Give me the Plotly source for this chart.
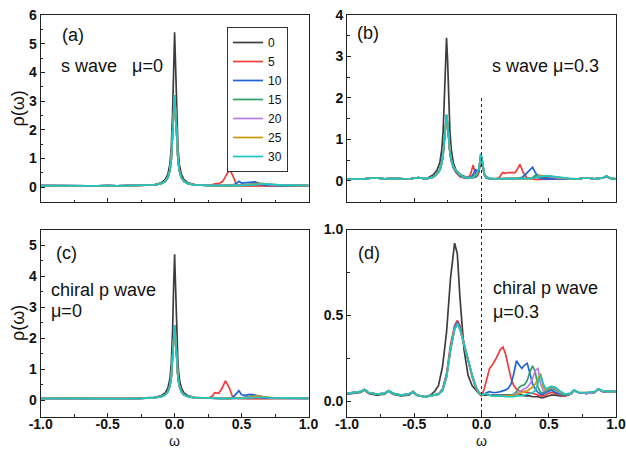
import plotly.graph_objects as go

# ---------------- labels / series ----------------
series_labels = ["0", "5", "10", "15", "20", "25", "30"]
series_colors = ["#3d3d3d", "#f03c3c", "#1f63dc", "#2f9f62", "#b57fe8", "#c8980c", "#1cc6c6"]

# ---------------- panel (a): s wave, mu=0 ----------------
omega_a = [-1.0, -0.93, -0.87, -0.81, -0.75, -0.7, -0.64, -0.57, -0.5, -0.43, -0.35, -0.25, -0.2, -0.15, -0.1,
           -0.07, -0.05, -0.035, -0.025, -0.015, -0.008, 0.0, 0.008, 0.015, 0.025, 0.035, 0.05, 0.07,
           0.1, 0.15, 0.2, 0.25, 0.28, 0.3, 0.33, 0.36, 0.39, 0.41, 0.43, 0.46, 0.48, 0.5, 0.53, 0.56, 0.6,
           0.63, 0.66, 0.7, 0.75, 0.8, 0.87, 0.93, 1.0]
a_left_0 = [0.05, 0.05, 0.07, 0.05, 0.045, 0.06, 0.045, 0.04, 0.055, 0.04, 0.045, 0.06, 0.07, 0.09, 0.15]
a_left = [0.05, 0.05, 0.07, 0.05, 0.045, 0.06, 0.045, 0.04, 0.055, 0.04, 0.045, 0.053, 0.06, 0.076, 0.12]
a_peak_0 = [0.26, 0.45, 0.81, 1.37, 2.6, 4.13, 5.4, 4.13, 2.6, 1.37, 0.81, 0.45, 0.26]
a_peak = [0.2, 0.33, 0.58, 0.96, 1.72, 2.56, 3.2, 2.56, 1.72, 0.96, 0.58, 0.33, 0.2]
a_right_0 = [0.15, 0.09, 0.07, 0.06, 0.05, 0.05, 0.05, 0.045, 0.045, 0.045, 0.05, 0.05, 0.05, 0.05, 0.055,
             0.06, 0.06, 0.06, 0.055, 0.05, 0.05, 0.05, 0.06, 0.05, 0.05]
a_right_5 = [0.12, 0.076, 0.06, 0.055, 0.08, 0.11, 0.12, 0.2, 0.45, 0.6, 0.45, 0.12, 0.06, 0.05, 0.05,
             0.045, 0.04, 0.035, 0.035, 0.04, 0.045, 0.05, 0.06, 0.055, 0.05]
a_right_10 = [0.12, 0.076, 0.06, 0.053, 0.05, 0.05, 0.05, 0.05, 0.05, 0.05, 0.06, 0.12, 0.2, 0.14, 0.15,
              0.16, 0.18, 0.13, 0.08, 0.06, 0.05, 0.05, 0.06, 0.055, 0.05]
a_right_15 = [0.12, 0.076, 0.06, 0.053, 0.05, 0.05, 0.05, 0.05, 0.05, 0.05, 0.05, 0.05, 0.055, 0.07, 0.09,
              0.1, 0.12, 0.13, 0.11, 0.08, 0.065, 0.06, 0.06, 0.055, 0.05]
a_right_20 = [0.12, 0.076, 0.06, 0.053, 0.05, 0.05, 0.05, 0.05, 0.05, 0.05, 0.05, 0.05, 0.05, 0.06, 0.075,
              0.09, 0.1, 0.12, 0.12, 0.09, 0.07, 0.065, 0.06, 0.055, 0.05]
a_right_25 = [0.12, 0.076, 0.06, 0.053, 0.05, 0.05, 0.05, 0.05, 0.05, 0.05, 0.05, 0.05, 0.05, 0.055, 0.065,
              0.08, 0.09, 0.11, 0.12, 0.1, 0.08, 0.065, 0.06, 0.055, 0.05]
a_right_30 = [0.12, 0.076, 0.06, 0.053, 0.05, 0.05, 0.05, 0.05, 0.05, 0.05, 0.05, 0.05, 0.05, 0.055, 0.06,
              0.07, 0.08, 0.1, 0.11, 0.1, 0.08, 0.07, 0.065, 0.06, 0.055]
rho_a = [a_left_0 + a_peak_0 + a_right_0,
         a_left + a_peak + a_right_5,
         a_left + a_peak + a_right_10,
         a_left + a_peak + a_right_15,
         a_left + a_peak + a_right_20,
         a_left + a_peak + a_right_25,
         a_left + a_peak + a_right_30]

# ---------------- panel (b): s wave, mu=0.3 ----------------
omega_b = [-1.0, -0.94, -0.87, -0.8, -0.72, -0.65, -0.6, -0.54, -0.47, -0.41, -0.36,
           -0.33, -0.31, -0.295, -0.285, -0.275, -0.268, -0.26, -0.252, -0.245, -0.235, -0.225, -0.21, -0.19,
           -0.16, -0.13, -0.1,
           -0.08, -0.063, -0.045, -0.03, -0.02, -0.012, -0.005, 0.003, 0.01, 0.02, 0.035, 0.06,
           0.1, 0.13, 0.157, 0.18, 0.2, 0.22, 0.25, 0.27, 0.286, 0.31, 0.34, 0.36, 0.38, 0.4, 0.43, 0.46,
           0.5, 0.55, 0.6, 0.65, 0.72, 0.78, 0.84, 0.9, 0.93, 0.96, 1.0]
b_g1_0 = [0.05, 0.055, 0.05, 0.075, 0.05, 0.06, 0.05, 0.045, 0.08, 0.05, 0.14]
b_g1 = [0.05, 0.055, 0.05, 0.075, 0.05, 0.06, 0.05, 0.045, 0.08, 0.05, 0.09]
b_g2_0 = [0.26, 0.44, 0.76, 1.21, 2.05, 2.89, 3.45, 2.89, 2.05, 1.21, 0.76, 0.44, 0.26, 0.16, 0.11, 0.08]
b_g2_5 = [0.17, 0.26, 0.43, 0.65, 1.02, 1.35, 1.55, 1.35, 1.02, 0.68, 0.48, 0.32, 0.2, 0.1, 0.07, 0.06]
b_g2_10 = [0.17, 0.26, 0.43, 0.65, 1.03, 1.37, 1.57, 1.37, 1.03, 0.69, 0.49, 0.33, 0.22, 0.12, 0.08, 0.06]
b_g2_15 = [0.17, 0.26, 0.43, 0.65, 1.04, 1.38, 1.58, 1.38, 1.04, 0.7, 0.5, 0.34, 0.24, 0.14, 0.09, 0.07]
b_g2 = [0.17, 0.26, 0.43, 0.65, 1.04, 1.39, 1.6, 1.39, 1.04, 0.7, 0.5, 0.35, 0.25, 0.15, 0.09, 0.07]
b_g3_0 = [0.07, 0.075, 0.09, 0.13, 0.2, 0.35, 0.58, 0.5, 0.33, 0.18, 0.1, 0.06]
b_g3_5 = [0.17, 0.38, 0.18, 0.14, 0.22, 0.4, 0.62, 0.5, 0.3, 0.15, 0.07, 0.05]
b_g3_10 = [0.08, 0.15, 0.28, 0.2, 0.25, 0.42, 0.62, 0.5, 0.3, 0.15, 0.07, 0.05]
b_g3_15 = [0.07, 0.1, 0.16, 0.2, 0.28, 0.44, 0.64, 0.54, 0.34, 0.17, 0.08, 0.055]
b_g3 = [0.065, 0.08, 0.12, 0.2, 0.3, 0.45, 0.65, 0.55, 0.35, 0.18, 0.09, 0.06]
b_g4_0 = [0.05, 0.05, 0.045, 0.045, 0.045, 0.045, 0.05, 0.05, 0.05, 0.05, 0.055, 0.06, 0.07, 0.09, 0.1,
          0.1, 0.09, 0.07, 0.05, 0.05, 0.05, 0.075, 0.05, 0.065, 0.1, 0.06, 0.05]
b_g4_5 = [0.05, 0.07, 0.2, 0.18, 0.2, 0.2, 0.2, 0.3, 0.4, 0.2, 0.07, 0.05, 0.04, 0.035, 0.035,
          0.04, 0.045, 0.05, 0.05, 0.05, 0.05, 0.075, 0.05, 0.07, 0.12, 0.06, 0.05]
b_g4_10 = [0.05, 0.05, 0.05, 0.05, 0.05, 0.055, 0.06, 0.06, 0.07, 0.1, 0.2, 0.27, 0.33, 0.2, 0.07,
           0.05, 0.05, 0.05, 0.05, 0.05, 0.05, 0.075, 0.05, 0.07, 0.12, 0.06, 0.05]
b_g4_15 = [0.05, 0.05, 0.05, 0.05, 0.05, 0.05, 0.05, 0.05, 0.05, 0.05, 0.055, 0.06, 0.08, 0.14, 0.13,
           0.12, 0.11, 0.08, 0.06, 0.05, 0.05, 0.075, 0.05, 0.07, 0.12, 0.06, 0.05]
b_g4_20 = [0.05, 0.05, 0.05, 0.05, 0.05, 0.05, 0.05, 0.05, 0.05, 0.05, 0.05, 0.055, 0.06, 0.08, 0.12,
           0.12, 0.11, 0.08, 0.06, 0.055, 0.05, 0.075, 0.05, 0.07, 0.12, 0.06, 0.05]
b_g4_25 = [0.05, 0.05, 0.05, 0.05, 0.05, 0.05, 0.05, 0.05, 0.05, 0.05, 0.05, 0.05, 0.055, 0.07, 0.11,
           0.12, 0.12, 0.09, 0.065, 0.055, 0.05, 0.075, 0.05, 0.07, 0.12, 0.06, 0.05]
b_g4_30 = [0.05, 0.05, 0.05, 0.05, 0.05, 0.05, 0.05, 0.05, 0.05, 0.05, 0.05, 0.055, 0.06, 0.08, 0.1,
           0.11, 0.12, 0.1, 0.07, 0.06, 0.05, 0.075, 0.05, 0.07, 0.12, 0.06, 0.05]
rho_b = [b_g1_0 + b_g2_0 + b_g3_0 + b_g4_0,
         b_g1 + b_g2_5 + b_g3_5 + b_g4_5,
         b_g1 + b_g2_10 + b_g3_10 + b_g4_10,
         b_g1 + b_g2_15 + b_g3_15 + b_g4_15,
         b_g1 + b_g2 + b_g3 + b_g4_20,
         b_g1 + b_g2 + b_g3 + b_g4_25,
         b_g1 + b_g2 + b_g3 + b_g4_30]

# ---------------- panel (c): chiral p wave, mu=0 ----------------
omega_c = [-1.0, -0.93, -0.87, -0.81, -0.75, -0.7, -0.64, -0.57, -0.5, -0.43, -0.35, -0.25, -0.2, -0.15, -0.1,
           -0.07, -0.05, -0.035, -0.025, -0.015, -0.008, 0.0, 0.008, 0.015, 0.025, 0.035, 0.05, 0.07,
           0.1, 0.15, 0.2, 0.25, 0.28, 0.3, 0.33, 0.35, 0.38, 0.41, 0.43, 0.46, 0.48, 0.5, 0.53, 0.56, 0.6,
           0.63, 0.66, 0.7, 0.75, 0.8, 0.87, 0.93, 1.0]
c_left_0 = [0.05, 0.055, 0.06, 0.05, 0.045, 0.055, 0.045, 0.04, 0.05, 0.04, 0.045, 0.06, 0.065, 0.09, 0.14]
c_left = [0.05, 0.055, 0.06, 0.05, 0.045, 0.055, 0.045, 0.04, 0.05, 0.04, 0.045, 0.055, 0.065, 0.077, 0.11]
c_peak_0 = [0.23, 0.39, 0.69, 1.16, 2.22, 3.56, 4.7, 3.56, 2.22, 1.16, 0.69, 0.39, 0.23]
c_peak = [0.17, 0.27, 0.46, 0.73, 1.3, 1.93, 2.4, 1.93, 1.3, 0.73, 0.46, 0.27, 0.17]
c_right_0 = [0.14, 0.09, 0.07, 0.06, 0.05, 0.05, 0.05, 0.045, 0.045, 0.045, 0.05, 0.05, 0.05, 0.05, 0.055,
             0.06, 0.06, 0.06, 0.055, 0.05, 0.05, 0.05, 0.06, 0.055, 0.05]
c_right_5 = [0.11, 0.077, 0.065, 0.06, 0.12, 0.24, 0.22, 0.35, 0.62, 0.38, 0.13, 0.06, 0.05, 0.045, 0.045,
             0.045, 0.045, 0.04, 0.04, 0.045, 0.05, 0.055, 0.06, 0.06, 0.055]
c_right_10 = [0.11, 0.077, 0.065, 0.06, 0.055, 0.05, 0.05, 0.05, 0.05, 0.05, 0.07, 0.2, 0.3, 0.17, 0.15,
              0.18, 0.17, 0.1, 0.07, 0.06, 0.06, 0.06, 0.06, 0.06, 0.055]
c_right_15 = [0.11, 0.077, 0.065, 0.06, 0.055, 0.05, 0.05, 0.05, 0.05, 0.05, 0.05, 0.05, 0.055, 0.07, 0.1,
              0.12, 0.15, 0.14, 0.1, 0.08, 0.07, 0.065, 0.06, 0.06, 0.055]
c_right_20 = [0.11, 0.077, 0.065, 0.06, 0.055, 0.05, 0.05, 0.05, 0.05, 0.05, 0.05, 0.05, 0.05, 0.06, 0.08,
              0.1, 0.13, 0.14, 0.11, 0.08, 0.07, 0.065, 0.06, 0.06, 0.055]
c_right_25 = [0.11, 0.077, 0.065, 0.06, 0.055, 0.05, 0.05, 0.05, 0.05, 0.05, 0.05, 0.05, 0.05, 0.055, 0.07,
              0.09, 0.11, 0.13, 0.11, 0.09, 0.075, 0.07, 0.06, 0.06, 0.055]
c_right_30 = [0.11, 0.077, 0.065, 0.06, 0.055, 0.05, 0.05, 0.05, 0.05, 0.05, 0.05, 0.05, 0.05, 0.055, 0.06,
              0.07, 0.08, 0.09, 0.09, 0.08, 0.075, 0.07, 0.065, 0.06, 0.055]
rho_c = [c_left_0 + c_peak_0 + c_right_0,
         c_left + c_peak + c_right_5,
         c_left + c_peak + c_right_10,
         c_left + c_peak + c_right_15,
         c_left + c_peak + c_right_20,
         c_left + c_peak + c_right_25,
         c_left + c_peak + c_right_30]

# ---------------- panel (d): chiral p wave, mu=0.3 ----------------
omega_d = [-1.0, -0.95, -0.9, -0.87, -0.84, -0.78, -0.72, -0.69, -0.66, -0.6, -0.54, -0.51, -0.48, -0.42,
           -0.38, -0.35,
           -0.32, -0.29, -0.26, -0.23, -0.2, -0.18, -0.16, -0.13, -0.1, -0.07, -0.04, -0.02,
           0.0, 0.02, 0.04, 0.06, 0.08, 0.11, 0.14, 0.16, 0.18, 0.2, 0.22, 0.24, 0.26, 0.28, 0.3, 0.32,
           0.34, 0.36, 0.38, 0.4, 0.42, 0.44, 0.46, 0.48, 0.5, 0.52, 0.55, 0.58, 0.62, 0.66, 0.69, 0.72,
           0.78, 0.84, 0.87, 0.9, 0.95, 1.0]
d_d1_0 = [0.04, 0.045, 0.05, 0.065, 0.045, 0.035, 0.04, 0.058, 0.04, 0.03, 0.035, 0.052, 0.032, 0.025, 0.035, 0.055]
d_d1 = [0.045, 0.05, 0.055, 0.068, 0.05, 0.04, 0.045, 0.06, 0.045, 0.035, 0.04, 0.055, 0.035, 0.025, 0.03, 0.035]
d_d2_0 = [0.09, 0.2, 0.4, 0.72, 0.92, 0.86, 0.6, 0.3, 0.15, 0.09, 0.06, 0.045]
d_d2_5 = [0.04, 0.07, 0.16, 0.33, 0.44, 0.47, 0.44, 0.34, 0.24, 0.14, 0.07, 0.045]
d_d2_10 = [0.04, 0.065, 0.15, 0.31, 0.43, 0.46, 0.43, 0.33, 0.24, 0.15, 0.08, 0.05]
d_d2 = [0.04, 0.06, 0.14, 0.3, 0.42, 0.45, 0.42, 0.33, 0.24, 0.15, 0.08, 0.05]
d_d3_0 = [0.035, 0.035, 0.035, 0.035, 0.035, 0.035, 0.035, 0.035, 0.035, 0.035, 0.035, 0.03, 0.035, 0.04, 0.035, 0.03]
d_d3_5 = [0.03, 0.07, 0.13, 0.19, 0.21, 0.25, 0.3, 0.315, 0.27, 0.2, 0.13, 0.09, 0.07, 0.06, 0.055, 0.055]
d_d3_10 = [0.035, 0.04, 0.05, 0.055, 0.05, 0.05, 0.055, 0.06, 0.065, 0.075, 0.1, 0.16, 0.235, 0.21, 0.19, 0.21]
d_d3_15 = [0.035, 0.04, 0.04, 0.035, 0.03, 0.03, 0.03, 0.03, 0.03, 0.03, 0.035, 0.04, 0.055, 0.08, 0.09, 0.095]
d_d3_20 = [0.035, 0.04, 0.04, 0.035, 0.03, 0.03, 0.03, 0.03, 0.03, 0.03, 0.03, 0.035, 0.04, 0.055, 0.065, 0.075]
d_d3_25 = [0.035, 0.04, 0.04, 0.035, 0.03, 0.03, 0.03, 0.03, 0.03, 0.03, 0.03, 0.03, 0.035, 0.045, 0.05, 0.055]
d_d3_30 = [0.035, 0.04, 0.04, 0.035, 0.03, 0.03, 0.03, 0.03, 0.025, 0.025, 0.025, 0.025, 0.03, 0.03, 0.03, 0.035]
d_d4_0 = [0.03, 0.03, 0.025, 0.025, 0.025, 0.02, 0.02, 0.025, 0.03, 0.035, 0.035, 0.03, 0.03, 0.04, 0.06,
          0.05, 0.045, 0.05, 0.07, 0.055, 0.055, 0.055]
d_d4_5 = [0.05, 0.05, 0.045, 0.04, 0.035, 0.03, 0.03, 0.035, 0.045, 0.05, 0.045, 0.035, 0.03, 0.04, 0.06,
          0.05, 0.045, 0.05, 0.07, 0.055, 0.055, 0.055]
d_d4_10 = [0.22, 0.16, 0.1, 0.07, 0.05, 0.04, 0.04, 0.05, 0.06, 0.065, 0.05, 0.04, 0.035, 0.04, 0.06,
           0.05, 0.045, 0.05, 0.07, 0.055, 0.055, 0.055]
d_d4_15 = [0.12, 0.17, 0.205, 0.17, 0.08, 0.05, 0.05, 0.06, 0.07, 0.075, 0.065, 0.045, 0.035, 0.04, 0.06,
           0.05, 0.045, 0.05, 0.07, 0.055, 0.055, 0.055]
d_d4_20 = [0.08, 0.1, 0.13, 0.18, 0.19, 0.1, 0.06, 0.065, 0.075, 0.08, 0.07, 0.05, 0.04, 0.04, 0.06,
           0.05, 0.045, 0.05, 0.07, 0.055, 0.055, 0.055]
d_d4_25 = [0.06, 0.07, 0.08, 0.1, 0.13, 0.16, 0.08, 0.065, 0.075, 0.085, 0.075, 0.055, 0.04, 0.045, 0.065,
           0.05, 0.05, 0.055, 0.07, 0.06, 0.055, 0.055]
d_d4_30 = [0.04, 0.045, 0.05, 0.06, 0.1, 0.15, 0.1, 0.07, 0.08, 0.085, 0.08, 0.06, 0.04, 0.045, 0.065,
           0.05, 0.05, 0.055, 0.07, 0.06, 0.055, 0.055]
rho_d = [d_d1_0 + d_d2_0 + d_d3_0 + d_d4_0,
         d_d1 + d_d2_5 + d_d3_5 + d_d4_5,
         d_d1 + d_d2_10 + d_d3_10 + d_d4_10,
         d_d1 + d_d2 + d_d3_15 + d_d4_15,
         d_d1 + d_d2 + d_d3_20 + d_d4_20,
         d_d1 + d_d2 + d_d3_25 + d_d4_25,
         d_d1 + d_d2 + d_d3_30 + d_d4_30]

panels = [("x", "y", omega_a, rho_a, True),
          ("x2", "y2", omega_b, rho_b, False),
          ("x3", "y3", omega_c, rho_c, False),
          ("x4", "y4", omega_d, rho_d, False)]

for _, _, om, rhos, _ in panels:
    for r in rhos:
        assert len(r) == len(om), (len(r), len(om))

W, H = 626, 450
FONT = "Liberation Sans, Arial, sans-serif"

fig = go.Figure()
for xa, ya, om, rhos, show in panels:
    for lab, col, r in zip(series_labels, series_colors, rhos):
        fig.add_trace(go.Scatter(x=om, y=r, mode="lines", name=lab, xaxis=xa, yaxis=ya,
                                 line=dict(color=col, width=1.7), showlegend=show))


def px(x):
    return x / W


def py(y):
    return 1 - y / H


col1 = [px(40.7), px(308.5)]
col2 = [px(347.0), px(616.0)]
row1 = [py(202), py(15)]
row2 = [py(416.5), py(229.5)]

axis_common = dict(showline=True, linecolor="#222", linewidth=1, mirror=True, ticks="inside",
                   ticklen=4, tickcolor="#222", showgrid=False, zeroline=False, automargin=False,
                   tickfont=dict(family=FONT, size=14, color="#111", weight="bold"))
xcommon = dict(axis_common, range=[-1, 1], tickvals=[-1, -0.5, 0, 0.5, 1],
               ticktext=["-1.0", "-0.5", "0.0", "0.5", "1.0"], ticklabelstandoff=-5,
               minor=dict(ticks="inside", dtick=0.25, tick0=0, ticklen=2.5, tickcolor="#222"))

fig.update_layout(
    width=W, height=H, margin=dict(l=0, r=0, t=0, b=0, autoexpand=False),
    paper_bgcolor="white", plot_bgcolor="white",
    font=dict(family=FONT, color="#111"),
    xaxis=dict(xcommon, domain=col1, anchor="y", showticklabels=False),
    xaxis2=dict(xcommon, domain=col2, anchor="y2", showticklabels=False),
    xaxis3=dict(xcommon, domain=col1, anchor="y3"),
    xaxis4=dict(xcommon, domain=col2, anchor="y4"),
    yaxis=dict(axis_common, domain=row1, anchor="x", range=[-0.52, 6], dtick=1,
               minor=dict(ticks="inside", dtick=0.5, ticklen=2.5, tickcolor="#222")),
    yaxis2=dict(axis_common, domain=row1, anchor="x2", range=[-0.51, 4], dtick=1,
                minor=dict(ticks="inside", dtick=0.5, ticklen=2.5, tickcolor="#222")),
    yaxis3=dict(axis_common, domain=row2, anchor="x3", range=[-0.53, 5.5], dtick=1,
                minor=dict(ticks="inside", dtick=0.5, ticklen=2.5, tickcolor="#222")),
    yaxis4=dict(axis_common, domain=row2, anchor="x4", range=[-0.09, 1.0], dtick=0.5,
                tickformat=".1f",
                minor=dict(ticks="inside", dtick=0.25, ticklen=2.5, tickcolor="#222")),
    legend=dict(x=px(227), y=py(27), xanchor="left", yanchor="top", bgcolor="white",
                bordercolor="#333", borderwidth=1, font=dict(family=FONT, size=12, color="#111"),
                itemwidth=30, tracegroupgap=0),
)

# dotted line at omega = 0 through panels (b) and (d)
fig.add_shape(type="line", xref="x2", yref="paper", x0=0, x1=0, y0=py(98), y1=py(417),
              line=dict(color="#222", width=1, dash="dot"))

ann = [
    ("(a)", 60, 35, 18), ("s wave\u00a0\u00a0 μ=0", 59, 66, 18),
    ("(b)", 355, 33, 18), ("s wave μ=0.3", 490, 66, 18),
    ("(c)", 54, 253, 18), ("chiral p wave", 49, 290, 18), ("μ=0", 49, 311, 18),
    ("(d)", 356, 253, 18), ("chiral p wave", 491, 288, 18), ("μ=0.3", 491, 312, 18),
]
for t, x, y, s in ann:
    fig.add_annotation(text=t, x=px(x), y=py(y), xref="paper", yref="paper", xanchor="left",
                       yanchor="middle", showarrow=False, font=dict(family=FONT, size=s, color="#111"))

for y in [108.5, 323]:
    fig.add_annotation(text="ρ(ω)", x=px(18), y=py(y), xref="paper", yref="paper", textangle=-90,
                       showarrow=False, xanchor="center", yanchor="middle",
                       font=dict(family=FONT, size=18, color="#111"))
for x in [174.6, 481.5]:
    fig.add_annotation(text="ω", x=px(x), y=py(450), xref="paper", yref="paper",
                       showarrow=False, xanchor="center", yanchor="bottom", borderpad=0,
                       font=dict(family=FONT, size=14, color="#111"))

fig.write_html("out.html", config={"displayModeBar": False},
               post_script="document.body.style.margin='0px';"
                           "document.body.style.overflow='hidden';")
